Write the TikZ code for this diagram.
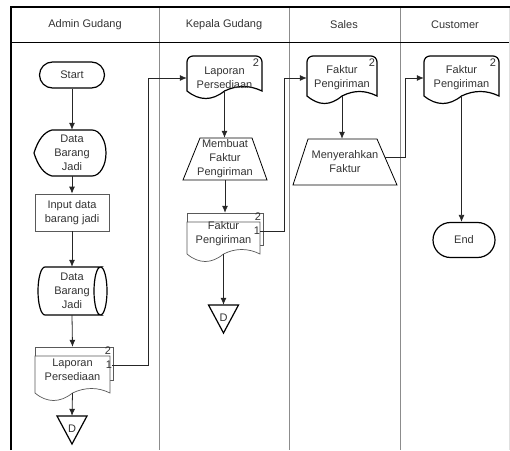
\documentclass[tikz,border=0pt]{standalone}
\usepackage{fontspec}
\setmainfont{Liberation Sans}
\usetikzlibrary{arrows.meta}

\begin{document}
\begin{tikzpicture}[x=1pt, y=1pt,
  font=\fontsize{11}{14}\selectfont,
  txt/.style={align=center, inner sep=0pt, text=black!80},
  outl/.style={draw=black, line width=1.2pt},
  lite/.style={draw=black!65, line width=0.7pt},
  arr/.style={-{Latex[length=7pt,width=6pt]}, draw=black!85, line width=0.8pt},
  num/.style={inner sep=0pt, text=black!80}]
\useasboundingbox (0,0) rectangle (510,450);

% swimlanes
\draw[black!45, line width=0.6pt] (159,443) -- (159,0) (289,443) -- (289,0) (400,443) -- (400,0);
\draw[black!12, line width=0.6pt] (509,443) -- (509,0);
\draw[black, line width=0.7pt] (11,408) -- (509,408);
\draw[black, line width=2pt] (11,0) -- (11,443) -- (510,443);
\node[txt] (hadm) at (85,425) {Admin Gudang};
\node[txt] (hkep) at (224,425) {Kepala Gudang};
\node[txt] (hsal) at (344,425) {Sales};
\node[txt] (hcus) at (455,425) {Customer};

% Admin Gudang
\node[txt, outl, rounded corners=13pt, minimum width=65, minimum height=26] (start) at (72,375) {Start};
\draw[outl] (34,297) .. controls (38,310) and (44,318) .. (52,320) -- (92,320)
  arc[start angle=90, end angle=-90, x radius=14, y radius=23] -- (52,274)
  .. controls (44,276) and (38,284) .. (34,297) -- cycle;
\node[txt, minimum width=72, minimum height=46] (dbj) at (72,297) {Data\\Barang\\Jadi};
\node[txt, lite, minimum width=74, minimum height=37] (inp) at (72,237.5) {Input data\\barang jadi};
\draw[outl] (45,183) -- (100.5,183) arc[start angle=90, end angle=270, x radius=6.5, y radius=24]
  -- (45,135) arc[start angle=270, end angle=90, x radius=7, y radius=24] -- cycle;
\draw[outl] (100.5,183) arc[start angle=90, end angle=-90, x radius=6.5, y radius=24];
\node[txt, minimum width=69, minimum height=48] (dbjdb) at (72,159) {Data\\Barang\\Jadi};
\draw[lite, fill=white] (35,70) rectangle (113,103);
\draw[lite, fill=white] (35,57) -- (35,94) -- (110,94) -- (110,57)
  .. controls (98,63) and (85,63) .. (72.5,57) .. controls (60,47) and (47,47) .. (35,57) -- cycle;
\node[txt, minimum width=75, minimum height=46] (lapadm) at (72.5,80) {Laporan\\Persediaan};
\node[num] (lapadm2) at (108,99) {2};
\node[num] (lapadm1) at (109,85) {1};
\node[txt, minimum width=30, minimum height=26] (dadm) at (72,21) {D};
\draw[outl] (57,34) -- (87,34) -- (72,6) -- cycle;

% Kepala Gudang
\draw[outl] (187,359) [rounded corners=6pt] -- (187,394) -- (262,394) [sharp corners] -- (262,359)
  .. controls (249.5,365) and (237,365) .. (224.5,359) .. controls (212,349) and (199.5,349) .. (187,359) -- cycle;
\node[txt, minimum width=75] (lapkep) at (224.5,372) {Laporan\\Persediaan};
\node[num] (lapkep2) at (256,387) {2};
\coordinate (lapkepw) at (224.5,359);
\draw[draw=black, line width=0.8pt] (183,270) -- (200,312) -- (252,312) -- (267,270) -- cycle;
\node[txt, minimum width=84, minimum height=42] (buat) at (225,291) {Membuat\\Faktur\\Pengiriman};
\draw[lite, fill=white] (187,205) rectangle (263,237);
\draw[lite, fill=white] (187,196) -- (187,228) -- (260,228) -- (260,196)
  .. controls (248,202) and (235.5,202) .. (223.5,196) .. controls (211.5,186) and (199,186) .. (187,196) -- cycle;
\node[txt, minimum width=73, minimum height=41] (fakkep) at (223.5,216.5) {Faktur\\Pengiriman};
\node[num] (fakkep2) at (258,233) {2};
\node[num] (fakkep1) at (257,219) {1};
\node[txt, minimum width=30, minimum height=26] (dkep) at (223.5,132) {D};
\draw[outl] (208.5,145) -- (238.5,145) -- (223.5,117) -- cycle;

% Sales
\draw[outl] (307,354) [rounded corners=6pt] -- (307,394) -- (377,394) [sharp corners] -- (377,354)
  .. controls (365,360) and (354,360) .. (342,354) .. controls (330,344) and (319,344) .. (307,354) -- cycle;
\node[txt, minimum width=70] (faksal) at (342,372) {Faktur\\Pengiriman};
\node[num] (faksal2) at (372,387) {2};
\coordinate (faksalw) at (342,354);
\draw[draw=black, line width=0.8pt] (293,265) -- (308,311) -- (377,311) -- (397,265) -- cycle;
\node[txt, minimum width=104, minimum height=46] (serah) at (345,288) {Menyerahkan\\Faktur};
\coordinate (serahr) at (385,293);

% Customer
\draw[outl] (424,354) [rounded corners=6pt] -- (424,394) -- (499,394) [sharp corners] -- (499,354)
  .. controls (486.5,360) and (474,360) .. (461.5,354) .. controls (449,344) and (436.5,344) .. (424,354) -- cycle;
\node[txt, minimum width=75] (fakcus) at (461.5,372) {Faktur\\Pengiriman};
\node[num] (fakcus2) at (493,387) {2};
\coordinate (fakcusw) at (461.5,354);
\node[txt, outl, rounded corners=17.5pt, minimum width=62, minimum height=35] (stop) at (464,210) {End};

% connectors
\draw[arr] (start.south) -- (dbj.north);
\draw[arr] (dbj.south) -- (inp.north);
\draw[arr] (inp.south) -- (dbjdb.north);
\draw[arr] (dbjdb.south) -- (lapadm.north);
\draw[arr] (lapadm.south) -- (dadm.north);
\draw[arr] (lapadm1.east) -- ++(36,0) |- (lapkep.west);
\draw[arr] (lapkepw) -- (lapkepw |- buat.north);
\draw[arr] (buat.south) -- (buat.south |- fakkep.north);
\draw[arr] (fakkep.south) -- (dkep.north);
\draw[arr] (fakkep1.east) -- ++(24,0) |- (faksal.west);
\draw[arr] (faksalw) -- (faksalw |- serah.north);
\draw[arr] (serahr) -- ++(20,0) |- (fakcus.west);
\draw[arr] (fakcusw) -- (fakcusw |- stop.north);
\end{tikzpicture}
\end{document}
